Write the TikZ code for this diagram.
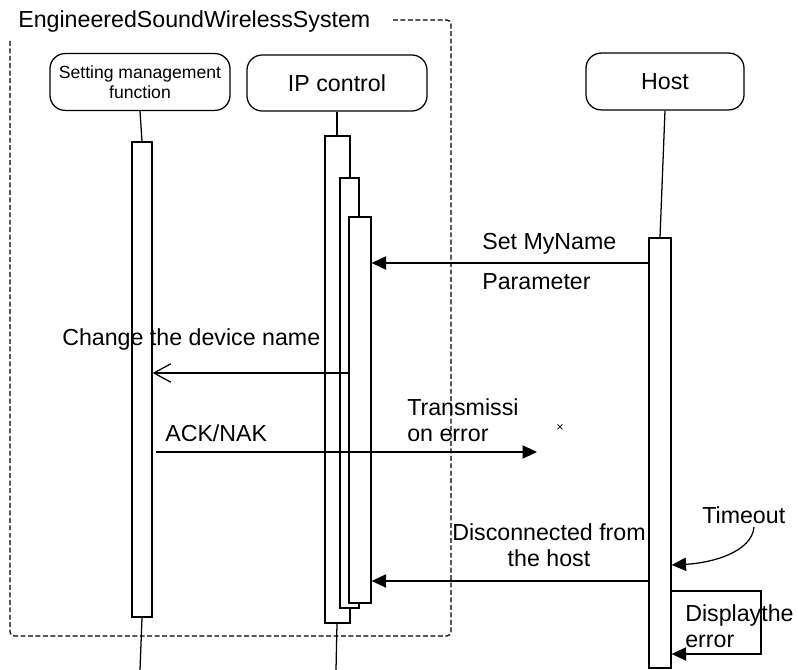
\documentclass[tikz,border=0pt]{standalone}
\usepackage{fontspec}
\setmainfont{Liberation Sans}
\usepackage{tikz}
\usetikzlibrary{arrows.meta, positioning, calc}
\tikzset{
    head_box/.style={
        rectangle, rounded corners=0.38cm, draw=black, line width=0.9pt,
        minimum width=4.5cm, minimum height=1.42cm, inner sep=1pt,
        align=center, font=\fontsize{16.5}{19}\selectfont
    },
    act_bar/.style={
        rectangle, draw=black, fill=white, line width=0.9pt, inner sep=0pt
    },
    life_line/.style={
        draw=black, line width=0.9pt
    },
    frame_line/.style={
        draw=black, line width=0.9pt, dash pattern=on 3.5pt off 1.8pt,
        rounded corners=3pt
    },
    msg_arrow/.style={
        -{Triangle[length=0.36cm, width=0.33cm]}, draw=black, line width=0.9pt
    },
    open_arrow/.style={
        -{Straight Barb[length=0.42cm, width=0.46cm, line width=0.9pt]},
        draw=black, line width=0.9pt
    },
    lbl/.style={
        font=\fontsize{16.5}{18.5}\selectfont, inner sep=0pt, align=left
    }
}

\begin{document}
\begin{tikzpicture}[x=0.025cm, y=-0.025cm]

    \useasboundingbox (0,0) rectangle (798,670);

    % system frame and its title
    \draw[frame_line] (393,20) -- (451,20) -- (451,636) -- (10,636) -- (10,40);
    \node[lbl, anchor=west] (systitle) at (18,22) {EngineeredSoundWirelessSystem};

    % lifeline heads
    \node[head_box, font=\fontsize{12.5}{14}\selectfont] (smf) at (140,82) {Setting management\\function};
    \node[head_box, minimum height=1.4cm] (ipc) at (337,83) {IP control};
    \node[head_box, minimum width=3.95cm] (host) at (665,81.5) {Host};

    % activation bars
    \node[act_bar, minimum width=0.5cm, minimum height=11.875cm] (smfbar) at (142,379.5) {};
    \node[act_bar, minimum width=0.625cm, minimum height=12.175cm] (ipbar1) at (337.5,379.5) {};
    \node[act_bar, minimum width=0.475cm, minimum height=10.75cm] (ipbar2) at (349.5,393) {};
    \node[act_bar, minimum width=0.55cm, minimum height=9.65cm] (ipbar3) at (360,410) {};
    \node[act_bar, minimum width=0.55cm, minimum height=10.75cm] (hostbar) at (660,453) {};

    % lifelines
    \coordinate (smfend) at (140,670);
    \coordinate (ipend) at (336,670);
    \draw[life_line] (smf.south) -- (smfbar.north);
    \draw[life_line] (ipc.south) -- (ipc.south |- ipbar1.north);
    \draw[life_line] (host.south) -- (hostbar.north);
    \draw[life_line] (smfbar.south) -- (smfend);
    \draw[life_line] (ipc.south |- ipbar1.south) -- (ipend);

    % messages
    \draw[msg_arrow] (hostbar.west |- 0,263) -- (ipbar3.east |- 0,263);
    \node[lbl, anchor=west] (setlbl) at (482,244) {Set MyName};
    \node[lbl, anchor=west] (parlbl) at (482,282) {Parameter};

    \draw[open_arrow] (ipbar3.west |- 0,373) -- (smfbar.east |- 0,373);
    \node[lbl, anchor=west] (chglbl) at (62,340) {Change the device name};

    \coordinate (lost) at (537,452);
    \draw[msg_arrow] ($(smfbar.east |- 0,452)+(3,0)$) -- (lost);
    \node[lbl, anchor=west] (acklbl) at (165,433) {ACK/NAK};
    \node[lbl, anchor=west] (errlbl) at (407,420) {Transmissi\\on error};
    \node[font=\fontsize{9}{10}\selectfont, inner sep=0pt] (lostmark) at (560,428) {×};

    \coordinate (tostart) at (754,527);
    \draw[msg_arrow] (tostart) .. controls (752,552) and (712,563) .. (hostbar.east |- 0,565);
    \node[lbl, anchor=west] (tolbl) at (702,515) {Timeout};

    \draw[msg_arrow] (hostbar.west |- 0,581) -- (ipbar3.east |- 0,581);
    \node[lbl, align=center] (disclbl) at (549,545) {Disconnected from\\the host};

    \coordinate (selfa) at (761,591);
    \coordinate (selfb) at (761,654);
    \draw[msg_arrow] (hostbar.east |- selfa) -- (selfa) -- (selfb) -- (hostbar.east |- selfb);
    \node[lbl, anchor=west] (displbl) at (685,626) {Displaythe\\error};

\end{tikzpicture}
\end{document}
